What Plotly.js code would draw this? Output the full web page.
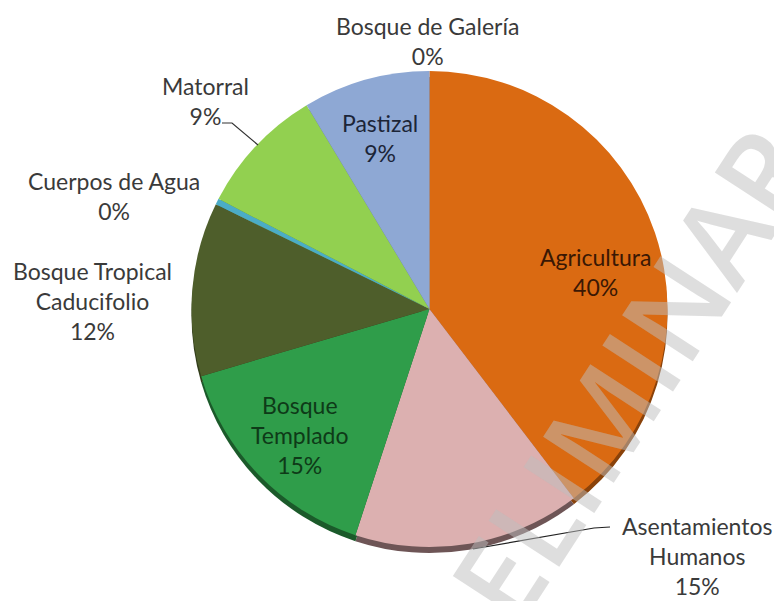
<!DOCTYPE html>
<html>
<head>
<meta charset="utf-8">
<script src="https://cdn.plot.ly/plotly-3.0.1.min.js"></script>
<style>html,body{margin:0;padding:0;background:#fff;}#chart{width:774px;height:601px;}</style>
</head>
<body>
<div id="chart"></div>
<script>
// ---- data ----
const categories = ["Agricultura", "Asentamientos Humanos", "Bosque Templado",
  "Bosque Tropical Caducifolio", "Cuerpos de Agua", "Matorral", "Pastizal", "Bosque de Galería"];
const labelLines = [["Agricultura"], ["Asentamientos", "Humanos"], ["Bosque", "Templado"],
  ["Bosque Tropical", "Caducifolio"], ["Cuerpos de Agua"], ["Matorral"], ["Pastizal"], ["Bosque de Galería"]];
const values = [39.6, 15.4, 15.4, 11.8, 0.4, 8.7, 8.6, 0.03];

// ---- styles ----
const colors = ["#DA6A12", "#DCB0B0", "#2F9D4A", "#4E5E2B", "#4BACC6", "#92D050", "#8EA8D4", "#7F97C4"];
const rimColors = ["#8A420A", "#6E5556", "#1B5A2A", "#323D1A", "#2F7384", "#5E8A30", "#5B6E92", "#5B6E92"];
const textColors = ["#3A1804", "#3A3A3A", "#0E3A18", "#3A3A3A", "#3A3A3A", "#3A3A3A", "#1C2538", "#3A3A3A"];
// label block centres in pixels (x, y)
const labelPos = [[595, 272], [697, 556], [300, 435], [92, 301], [114, 196], [205, 101], [380, 138], [427, 41]];

const W = 774, H = 601;
const cx = 429.5, cy = 309, r = 238;
const px = x => x / W, py = y => 1 - y / H;

const total = values.reduce((a, b) => a + b, 0);
const pct = values.map(v => Math.round(v / total * 100) + "%");

const pieMain = {
  type: "pie", values: values, labels: categories, sort: false, direction: "clockwise", rotation: 0,
  marker: {colors: colors, line: {width: 0}}, textinfo: "none", hoverinfo: "label+percent",
  domain: {x: [px(cx - r), px(cx + r)], y: [py(cy + r), py(cy - r)]}, showlegend: false
};
const rimShift = 6;
const pieRim = {
  type: "pie", values: values, labels: categories, sort: false, direction: "clockwise", rotation: 0,
  marker: {colors: rimColors, line: {width: 0}}, textinfo: "none", hoverinfo: "skip",
  domain: {x: [px(cx - r), px(cx + r)], y: [py(cy + r + rimShift), py(cy - r + rimShift)]}, showlegend: false
};

const font = "Lato, 'Open Sans', sans-serif";
const annotations = categories.map((c, i) => ({
  xref: "paper", yref: "paper", x: px(labelPos[i][0]), y: py(labelPos[i][1]),
  xanchor: "center", yanchor: "middle", showarrow: false, align: "center",
  text: labelLines[i].concat([pct[i]]).join("<br>"),
  font: {family: font, size: 23, color: textColors[i]}
}));
annotations.push({
  xref: "paper", yref: "paper", x: px(590), y: py(435), xanchor: "center", yanchor: "middle",
  showarrow: false, text: "PRELIMINAR", textangle: -57,
  font: {family: "'Open Sans', sans-serif", size: 118, color: "rgba(190,190,190,0.5)", weight: 600}
});

function path(pts) {
  return pts.map((p, i) => (i ? "L" : "M") + px(p[0]) + "," + py(p[1])).join(" ");
}
const shapes = [
  {type: "path", xref: "paper", yref: "paper", path: path([[222, 123], [232, 123], [258, 145]]),
   line: {color: "#333333", width: 1.2}},
  {type: "path", xref: "paper", yref: "paper", path: path([[610, 527], [594, 528], [473, 549]]),
   line: {color: "#222222", width: 1.2}}
];

Plotly.newPlot("chart", [pieRim, pieMain], {
  width: W, height: H, margin: {l: 0, r: 0, t: 0, b: 0},
  paper_bgcolor: "#ffffff", plot_bgcolor: "#ffffff",
  annotations: annotations, shapes: shapes, showlegend: false
}, {staticPlot: true});
</script>
</body>
</html>
